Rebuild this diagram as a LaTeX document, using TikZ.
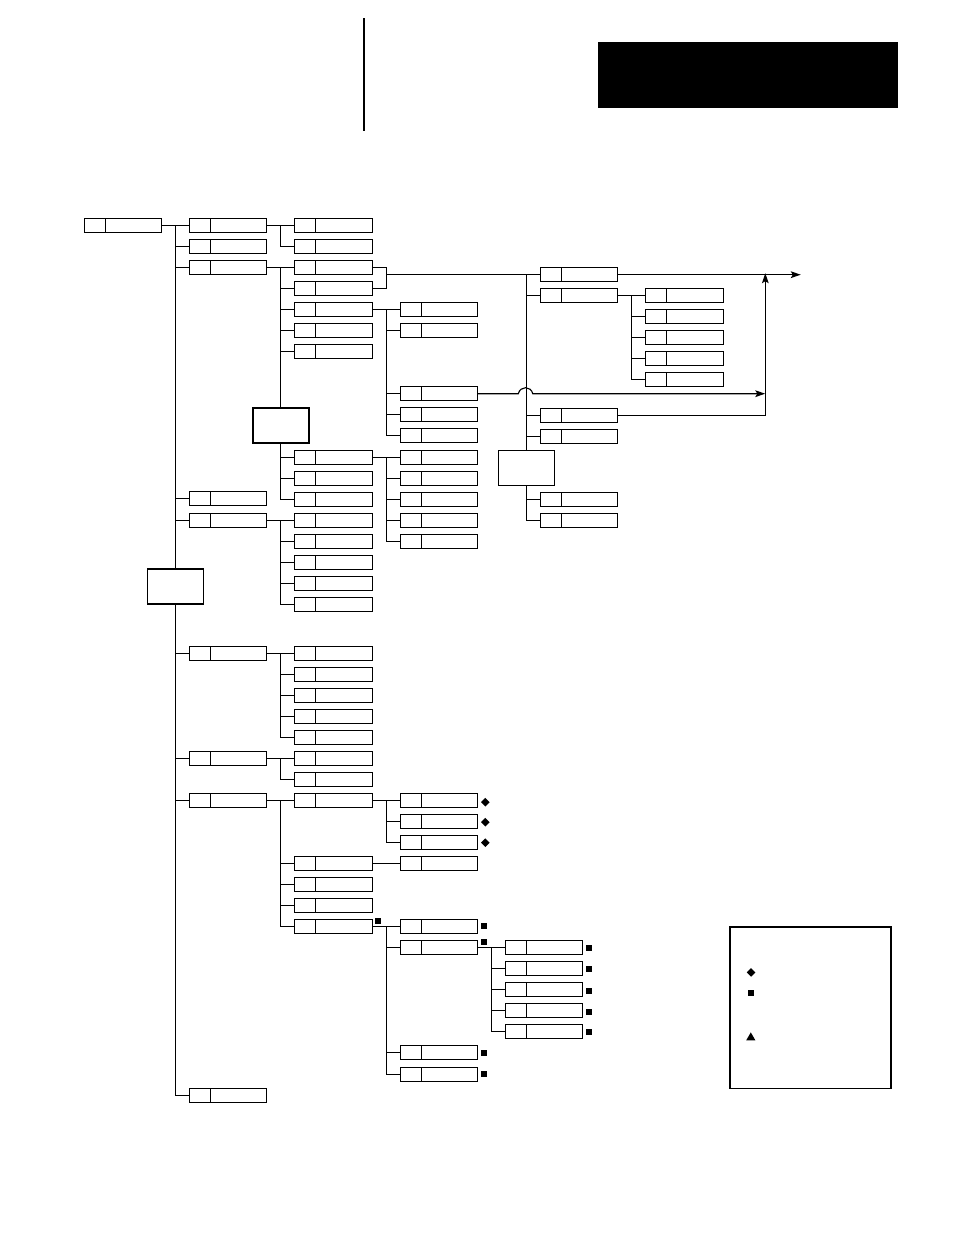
\documentclass[tikz,border=0pt]{standalone}
\usetikzlibrary{arrows.meta,backgrounds,shapes.geometric}
\tikzset{
  entry/.style={draw,anchor=west,inner sep=0pt,outer sep=0pt,minimum height=10.2pt,minimum width=#1*0.75pt,
    path picture={\draw ([xshift=15.75pt]path picture bounding box.north west) -- ([xshift=15.75pt]path picture bounding box.south west);}},
  entry/.default=76.8,
  hub/.style={draw,fill=white,line width=#1,inner sep=0pt,outer sep=0pt,minimum width=42pt,minimum height=26.2pt},
  hub/.default=1.3pt,
  flow/.style={-{Stealth[length=7.5pt,width=5pt,inset=1.5pt]}},
  dmark/.style={diamond,fill=black,inner sep=0pt,minimum size=6.8pt},
  smark/.style={rectangle,fill=black,inner sep=0pt,minimum size=4.7pt},
  tmark/.style={regular polygon,regular polygon sides=3,fill=black,inner sep=0pt,minimum size=8pt},
  every path/.append style={line width=0.85pt}
}
\begin{document}
\begin{tikzpicture}[x=0.75pt,y=-0.75pt]
  \useasboundingbox (0.2,-0.7) rectangle (954.2,1234.3);

  \node[fill=black,inner sep=0pt,minimum width=225pt,minimum height=49.5pt] (tab) at (748,74.4) {};
  \coordinate (ruletop) at (364,17.5);
  \coordinate (rulebot) at (364,130.5);
  \draw[line width=1.6pt] (ruletop) -- (rulebot);

  \node[entry] (root) at (85,225) {};

  \node[entry] (m1) at (190,225)  {};
  \node[entry] (m2) at (190,246)  {};
  \node[entry] (m3) at (190,267)  {};
  \node[entry] (m4) at (190,498)  {};
  \node[entry] (m5) at (190,520)  {};
  \node[entry] (m6) at (190,653)  {};
  \node[entry] (m7) at (190,758)  {};
  \node[entry] (m8) at (190,800)  {};
  \node[entry] (m9) at (190,1095) {};
  \node[hub]   (hub1) at (175.8,586) {};

  \node[entry=77.8] (p1) at (295,225) {};
  \node[entry=77.8] (p2) at (295,246) {};
  \node[entry=77.8] (q1) at (295,267) {};
  \node[entry=77.8] (q2) at (295,288) {};
  \node[entry=77.8] (q3) at (295,309) {};
  \node[entry=77.8] (q4) at (295,330) {};
  \node[entry=77.8] (q5) at (295,351) {};
  \node[hub]        (hub2) at (281,425) {};
  \node[entry=77.8] (q6) at (295,457) {};
  \node[entry=77.8] (q7) at (295,478) {};
  \node[entry=77.8] (q8) at (295,499) {};
  \node[entry=77.8] (r1) at (295,520) {};
  \node[entry=77.8] (r2) at (295,541) {};
  \node[entry=77.8] (r3) at (295,562) {};
  \node[entry=77.8] (r4) at (295,583) {};
  \node[entry=77.8] (r5) at (295,604) {};
  \node[entry=77.8] (t1) at (295,653) {};
  \node[entry=77.8] (t2) at (295,674) {};
  \node[entry=77.8] (t3) at (295,695) {};
  \node[entry=77.8] (t4) at (295,716) {};
  \node[entry=77.8] (t5) at (295,737) {};
  \node[entry=77.8] (u1) at (295,758) {};
  \node[entry=77.8] (u2) at (295,779) {};
  \node[entry=77.8] (v1) at (295,800) {};
  \node[entry=77.8] (v2) at (295,863) {};
  \node[entry=77.8] (v3) at (295,884) {};
  \node[entry=77.8] (v4) at (295,905) {};
  \node[entry=77.8] (v5) at (295,926) {};

  \node[entry] (c1) at (401,309)  {};
  \node[entry] (c2) at (401,330)  {};
  \node[entry] (c3) at (401,393)  {};
  \node[entry] (c4) at (401,414)  {};
  \node[entry] (c5) at (401,435)  {};
  \node[entry] (d1) at (401,457)  {};
  \node[entry] (d2) at (401,478)  {};
  \node[entry] (d3) at (401,499)  {};
  \node[entry] (d4) at (401,520)  {};
  \node[entry] (d5) at (401,541)  {};
  \node[entry] (f1) at (401,800)  {};
  \node[entry] (f2) at (401,821)  {};
  \node[entry] (f3) at (401,842)  {};
  \node[entry] (g1) at (401,863)  {};
  \node[entry] (h1) at (401,926)  {};
  \node[entry] (h2) at (401,947)  {};
  \node[entry] (h3) at (401,1052) {};
  \node[entry] (h4) at (401,1074) {};

  \node[entry] (k1) at (506,947)  {};
  \node[entry] (k2) at (506,968)  {};
  \node[entry] (k3) at (506,989)  {};
  \node[entry] (k4) at (506,1010) {};
  \node[entry] (k5) at (506,1031) {};

  \node[entry] (w1) at (541,274) {};
  \node[entry] (w2) at (541,295) {};
  \node[entry] (w3) at (541,415) {};
  \node[entry] (w4) at (541,436) {};
  \node[hub=0.85pt] (hub3) at (526.5,467.5) {};
  \node[entry] (w5) at (541,499) {};
  \node[entry] (w6) at (541,520) {};

  \node[entry=77.8] (n1) at (646,295) {};
  \node[entry=77.8] (n2) at (646,316) {};
  \node[entry=77.8] (n3) at (646,337) {};
  \node[entry=77.8] (n4) at (646,358) {};
  \node[entry=77.8] (n5) at (646,379) {};

  \coordinate (rbus) at (175.5,225);
  \coordinate (pbus) at (280.8,225);
  \coordinate (qbus) at (280.8,267);
  \coordinate (sbus) at (280.8,520);
  \coordinate (tbus) at (280.8,653);
  \coordinate (ubus) at (280.8,758);
  \coordinate (vbus) at (280.8,800);
  \coordinate (cbus) at (386.5,309);
  \coordinate (dbus) at (386.5,457);
  \coordinate (fbus) at (386.5,800);
  \coordinate (hbus) at (386.5,926);
  \coordinate (kbus) at (491.5,947);
  \coordinate (wbus) at (526.5,274);
  \coordinate (nbus) at (631.5,295);
  \coordinate (tie)  at (386.5,274);
  \coordinate (hopa) at (518.5,393);
  \coordinate (hopb) at (533,393);
  \coordinate (riser) at (765.5,272.5);
  \coordinate (merge) at (765.5,393);
  \coordinate (outlet) at (801,274);

  \begin{scope}[on background layer]
    \draw (root.east) -- (m1.west);
    \draw (rbus) |- (m2.west) (rbus) |- (m3.west) (rbus) |- (m4.west) (rbus) |- (m5.west) (rbus) -- (rbus |- hub1.north);
    \draw (rbus |- hub1.south) |- (m6.west) (rbus |- hub1.south) |- (m7.west) (rbus |- hub1.south) |- (m8.west) (rbus |- hub1.south) |- (m9.west);

    \draw (m1.east) -- (p1.west) (pbus) |- (p2.west);
    \draw (m3.east) -- (q1.west) (qbus) |- (q2.west) (qbus) |- (q3.west) (qbus) |- (q4.west) (qbus) |- (q5.west) (qbus) -- (qbus |- hub2.north);
    \draw (qbus |- hub2.south) |- (q6.west) (qbus |- hub2.south) |- (q7.west) (qbus |- hub2.south) |- (q8.west);
    \draw (m5.east) -- (r1.west) (sbus) |- (r2.west) (sbus) |- (r3.west) (sbus) |- (r4.west) (sbus) |- (r5.west);
    \draw (m6.east) -- (t1.west) (tbus) |- (t2.west) (tbus) |- (t3.west) (tbus) |- (t4.west) (tbus) |- (t5.west);
    \draw (m7.east) -- (u1.west) (ubus) |- (u2.west);
    \draw (m8.east) -- (v1.west) (vbus) |- (v2.west) (vbus) |- (v3.west) (vbus) |- (v4.west) (vbus) |- (v5.west);

    \draw (q3.east) -- (c1.west) (cbus) |- (c2.west) (cbus) |- (c3.west) (cbus) |- (c4.west) (cbus) |- (c5.west);
    \draw (q6.east) -- (d1.west) (dbus) |- (d2.west) (dbus) |- (d3.west) (dbus) |- (d4.west) (dbus) |- (d5.west);
    \draw (v1.east) -- (f1.west) (fbus) |- (f2.west) (fbus) |- (f3.west);
    \draw (v2.east) -- (g1.west);
    \draw (v5.east) -- (h1.west) (hbus) |- (h2.west) (hbus) |- (h3.west) (hbus) |- (h4.west);
    \draw (h2.east) -- (k1.west) (kbus) |- (k2.west) (kbus) |- (k3.west) (kbus) |- (k4.west) (kbus) |- (k5.west);

    \draw (q1.east) -| (tie) |- (q2.east);
    \draw (tie) -- (w1.west);
    \draw (wbus) |- (w2.west) (wbus) |- (w3.west) (wbus) |- (w4.west) (wbus) -- (hub3.north);
    \draw (hub3.south) |- (w5.west) (hub3.south) |- (w6.west);
    \draw (w2.east) -- (n1.west) (nbus) |- (n2.west) (nbus) |- (n3.west) (nbus) |- (n4.west) (nbus) |- (n5.west);

    \draw[flow] (w1.east) -- (outlet);
    \draw[flow] (c3.east) -- (hopa) .. controls +(2,-8) and +(-2,-8) .. (hopb) -- (merge);
    \draw[flow] (w3.east) -| (riser);
  \end{scope}

  \node[dmark] (mk1)  at (485.5,801.5) {};
  \node[dmark] (mk2)  at (485.5,821.5) {};
  \node[dmark] (mk3)  at (485.5,842)   {};
  \node[smark] (mk4)  at (378,920.5)   {};
  \node[smark] (mk5)  at (484,925)     {};
  \node[smark] (mk6)  at (484,941.5)   {};
  \node[smark] (mk7)  at (589,947)     {};
  \node[smark] (mk8)  at (589,968)     {};
  \node[smark] (mk9)  at (589,990)     {};
  \node[smark] (mk10) at (589,1011)    {};
  \node[smark] (mk11) at (589,1031.5)  {};
  \node[smark] (mk12) at (484,1052)    {};
  \node[smark] (mk13) at (484,1073)    {};

  \node[draw,line width=1.3pt,inner sep=0pt,outer sep=0pt,minimum width=120.9pt,minimum height=121pt] (legend) at (810.8,1007) {};
  \node[dmark] (key1) at (751.3,971.7)  {};
  \node[smark] (key2) at (751,992.5) {};
  \node[tmark] (key3) at (751,1037) {};
\end{tikzpicture}
\end{document}
